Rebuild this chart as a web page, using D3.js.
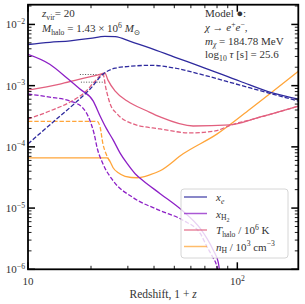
<!DOCTYPE html>
<html><head><meta charset="utf-8">
<script src="https://cdn.jsdelivr.net/npm/d3@7"></script>
<style>
body{margin:0;background:#fff}
svg{display:block}
text{font-family:"Liberation Serif","DejaVu Serif",serif;fill:#333}
</style>
</head><body>
<svg id="chart" width="305" height="304"></svg>
<script>
// ---- data (1+z, value) ----
var zXeSolid = [10, 12.7, 15.9, 19.8, 23.3, 26.1, 30.8, 38.4, 50.5, 66.5, 103, 147, 196];
var xeSolid  = [4.7e-3, 5.1e-3, 5.4e-3, 5.9e-3, 6.4e-3, 6.3e-3, 5.3e-3, 4.1e-3, 2.9e-3, 2.07e-3, 1.18e-3, 7.6e-4, 6.0e-4];
var zXeDashed = [10, 12.7, 17.2, 19.8, 22.8, 26.1, 30.8, 38.4, 50.5, 66.5, 103, 147, 196];
var xeDashed  = [1.12e-4, 2.28e-4, 5.6e-4, 8.8e-4, 1.54e-3, 1.93e-3, 2.07e-3, 2.15e-3, 1.93e-3, 1.54e-3, 1.02e-3, 7.3e-4, 5.6e-4];

var zH2Solid = [10, 12.7, 15.4, 17.7, 20.5, 22.1, 23.6, 25.5, 27.5, 29.8, 32.5, 35.5, 42.8, 54.6, 66.5, 76.8, 81.1, 84];
var h2Solid  = [3.25e-3, 2.24e-3, 1.32e-3, 8.8e-4, 5.6e-4, 3.2e-4, 2.04e-4, 1.3e-4, 8.0e-5, 5.3e-5, 3.64e-5, 2.8e-5, 1.72e-5, 9.1e-6, 4.65e-6, 2.04e-6, 1.3e-6, 5e-7];
var zH2Dashed = [10, 12.7, 15.9, 18.3, 19.8, 20.7, 21.4, 22.8, 25.5, 31.8, 42.8, 55.1, 66.5, 71.9, 75.9, 80.2, 82];
var h2Dashed  = [7.3e-4, 6.5e-4, 5.6e-4, 4.3e-4, 2.65e-4, 1.63e-4, 9.6e-5, 5.3e-5, 2.8e-5, 1.48e-5, 9.1e-6, 6.3e-6, 3.85e-6, 2.28e-6, 1.63e-6, 1.04e-6, 5e-7];

var zTSolid = [10, 14.2, 17.7, 21.4, 23.3, 24.1, 26.1, 29.8, 37.1, 42.8, 61.5, 92.6, 128.8, 196];
var tSolid  = [8.45e-4, 1.06e-3, 1.28e-3, 1.48e-3, 1.6e-3, 1.23e-3, 8.15e-4, 5.6e-4, 3.85e-4, 3.08e-4, 2.19e-4, 2.28e-4, 3.08e-4, 4.65e-4];
var zTDashed = [10, 12.7, 16.2, 18.7, 20.9, 22.8, 23.6, 24.7, 26.7, 31.8, 42.8, 59.6, 78.5, 92.6, 128.8, 196];
var tDashed  = [2.85e-4, 3.85e-4, 5.6e-4, 7.8e-4, 1.18e-3, 1.54e-3, 8.8e-4, 5.0e-4, 3.44e-4, 2.37e-4, 1.96e-4, 1.69e-4, 1.82e-4, 2.25e-4, 3.05e-4, 4.65e-4];

var zNSolid = [10, 23.9, 24.7, 25.5, 27.0, 29.1, 33.2, 38.4, 42.8, 55.1, 80.2, 115.3, 196];
var nSolid  = [6.6e-5, 6.6e-5, 5.7e-5, 4.56e-5, 3.77e-5, 3.31e-5, 3.13e-5, 3.51e-5, 4.07e-5, 7.7e-5, 1.63e-4, 4.15e-4, 1.72e-3];
var zNDashed = [10, 21.4, 22.1, 22.8, 23.6, 24.7];
var nDashed  = [2.6e-4, 2.6e-4, 2.11e-4, 1.12e-4, 7.7e-5, 5.7e-5];

// grey dotted guides near collapse
var dotZ0 = [17.7, 17.9], dotZ1 = [23.3, 23.3];
var dotV  = [1.52e-3, 1.14e-3];

var yMajor = [1e-6, 1e-5, 1e-4, 1e-3, 1e-2];
var yLabels = ["\u22126", "\u22125", "\u22124", "\u22123", "\u22122"];

var colXe = "#2e2a9e", colH2 = "#8d20c6", colT = "#e2607f", colN = "#ffa53a";

// ---- setup ----
var svg = d3.select("#chart");
var L = 28, R = 298.3, T = 4.7, B = 269.3;

var x = d3.scaleLog().domain([10, 195.6]).range([L, R]);
var y = d3.scaleLog().domain([1e-6, 2.1e-2]).range([B, T]);

svg.append("defs").append("clipPath").attr("id", "clip")
  .append("rect").attr("x", L).attr("y", T).attr("width", R - L).attr("height", B - T);

var plot = svg.append("g").attr("clip-path", "url(#clip)");

var line = d3.line()
  .x(function(d) { return x(d[0]); })
  .y(function(d) { return y(d[1]); })
  .curve(d3.curveMonotoneX);

function series(zs, vs, color, dashed) {
  var pts = zs.map(function(z, i) { return [z, vs[i]]; });
  plot.append("path")
    .attr("d", line(pts))
    .attr("fill", "none")
    .attr("stroke", color)
    .attr("stroke-width", 1.3)
    .attr("stroke-dasharray", dashed ? "4.4,1.9" : null);
}

// dotted guides
dotV.forEach(function(v, i) {
  plot.append("line")
    .attr("x1", x(dotZ0[i])).attr("x2", x(dotZ1[i]))
    .attr("y1", y(v)).attr("y2", y(v))
    .attr("stroke", "#555").attr("stroke-width", 1)
    .attr("stroke-dasharray", "1,1.6");
});

series(zNSolid, nSolid, colN, false);
series(zNDashed, nDashed, colN, true);
series(zTSolid, tSolid, colT, false);
series(zTDashed, tDashed, colT, true);
series(zH2Solid, h2Solid, colH2, false);
series(zH2Dashed, h2Dashed, colH2, true);
series(zXeSolid, xeSolid, colXe, false);
series(zXeDashed, xeDashed, colXe, true);

// ---- rich text helper: parts = [text, style] ; style: i, sub, isub, sup, subsub ----
function rich(g, px, py, parts, size, anchor) {
  var t = g.append("text").attr("x", px).attr("y", py)
    .style("font-size", size + "px")
    .attr("text-anchor", anchor || "start");
  var cur = 0;
  parts.forEach(function(p) {
    var st = p[1] || "";
    var sh = 0, fs = size;
    if (st.indexOf("sub") >= 0) { sh = 0.24 * size; fs = 0.7 * size; }
    if (st === "subsub") { sh = 0.4 * size; fs = 0.55 * size; }
    if (st.indexOf("sup") >= 0) { sh = -0.4 * size; fs = 0.7 * size; }
    var ts = t.append("tspan").text(p[0]).style("font-size", fs + "px")
      .attr("dy", sh - cur);
    if (st.charAt(0) === "i") ts.style("font-style", "italic");
    cur = sh;
  });
  return t;
}

// ---- ticks ----
var ax = svg.append("g");
var yTicks = y.ticks();
yTicks.forEach(function(v) {
  var major = Math.abs(Math.log10(v) - Math.round(Math.log10(v))) < 1e-6;
  var len = major ? 7 : 3.5, w = major ? 1.5 : 0.9;
  ax.append("line").attr("x1", L).attr("x2", L + len).attr("y1", y(v)).attr("y2", y(v))
    .attr("stroke", "#000").attr("stroke-width", w);
  ax.append("line").attr("x1", R).attr("x2", R - len).attr("y1", y(v)).attr("y2", y(v))
    .attr("stroke", "#000").attr("stroke-width", w);
});
var xTicks = x.ticks();
xTicks.forEach(function(v) {
  var major = Math.abs(Math.log10(v) - Math.round(Math.log10(v))) < 1e-6;
  var len = major ? 7 : 3.5, w = major ? 1.5 : 0.9;
  ax.append("line").attr("x1", x(v)).attr("x2", x(v)).attr("y1", B).attr("y2", B - len)
    .attr("stroke", "#000").attr("stroke-width", w);
  ax.append("line").attr("x1", x(v)).attr("x2", x(v)).attr("y1", T).attr("y2", T + len)
    .attr("stroke", "#000").attr("stroke-width", w);
});

// frame
ax.append("rect").attr("x", L).attr("y", T).attr("width", R - L).attr("height", B - T)
  .attr("fill", "none").attr("stroke", "#000").attr("stroke-width", 1.8);

// tick labels
yMajor.forEach(function(v, i) {
  rich(ax, 25, y(v) + 4, [["10"], [yLabels[i], "sup"]], 11, "end");
});
rich(ax, x(10), 285, [["10"]], 11, "middle");
rich(ax, x(100), 285, [["10"], ["2", "sup"]], 11, "middle");
rich(ax, (L + R) / 2, 298, [["Redshift, 1 + "], ["z", "i"]], 11.5, "middle");

// ---- annotations ----
rich(svg, 42, 17, [["z", "i"], ["vir", "sub"], ["= 20"]], 11);
rich(svg, 42, 32, [["M", "i"], ["halo", "sub"], [" = 1.43 \u00d7 10"], ["6", "sup"], [" "], ["M", "i"], ["\u2299", "sub"]], 11);

rich(svg, 205, 17, [["Model \u25cf:"]], 11);
rich(svg, 205, 31, [["\u03c7", "i"], [" \u2192 "], ["e", "i"], ["+", "sup"], ["e", "i"], ["\u2212", "sup"], [","]], 11);
rich(svg, 205, 44.5, [["m", "i"], ["\u03c7", "isub"], [" = 184.78 MeV"]], 11);
rich(svg, 205, 58, [["log"], ["10", "sub"], [" "], ["\u03c4", "i"], [" [s] = 25.6"]], 11);

// ---- legend ----
var lg = svg.append("g");
lg.append("rect").attr("x", 181).attr("y", 189).attr("width", 107).attr("height", 69)
  .attr("rx", 3).attr("fill", "#fff").attr("fill-opacity", 0.8)
  .attr("stroke", "#ccc").attr("stroke-width", 0.8);
var legendItems = [
  { color: colXe, parts: [["x", "i"], ["e", "isub"]] },
  { color: colH2, parts: [["x", "i"], ["H", "sub"], ["2", "subsub"]] },
  { color: colT,  parts: [["T", "i"], ["halo", "sub"], [" / 10"], ["6", "sup"], [" K"]] },
  { color: colN,  parts: [["n", "i"], ["H", "sub"], [" / 10"], ["3", "sup"], [" cm"], ["\u22123", "sup"]] }
];
legendItems.forEach(function(d, i) {
  var ly = 197 + i * 16.5;
  lg.append("line").attr("x1", 184).attr("x2", 207).attr("y1", ly).attr("y2", ly)
    .attr("stroke", d.color).attr("stroke-width", 1.5).attr("stroke-opacity", 0.75);
  rich(lg, 216, ly + 4, d.parts, 11);
});
</script>
</body></html>
